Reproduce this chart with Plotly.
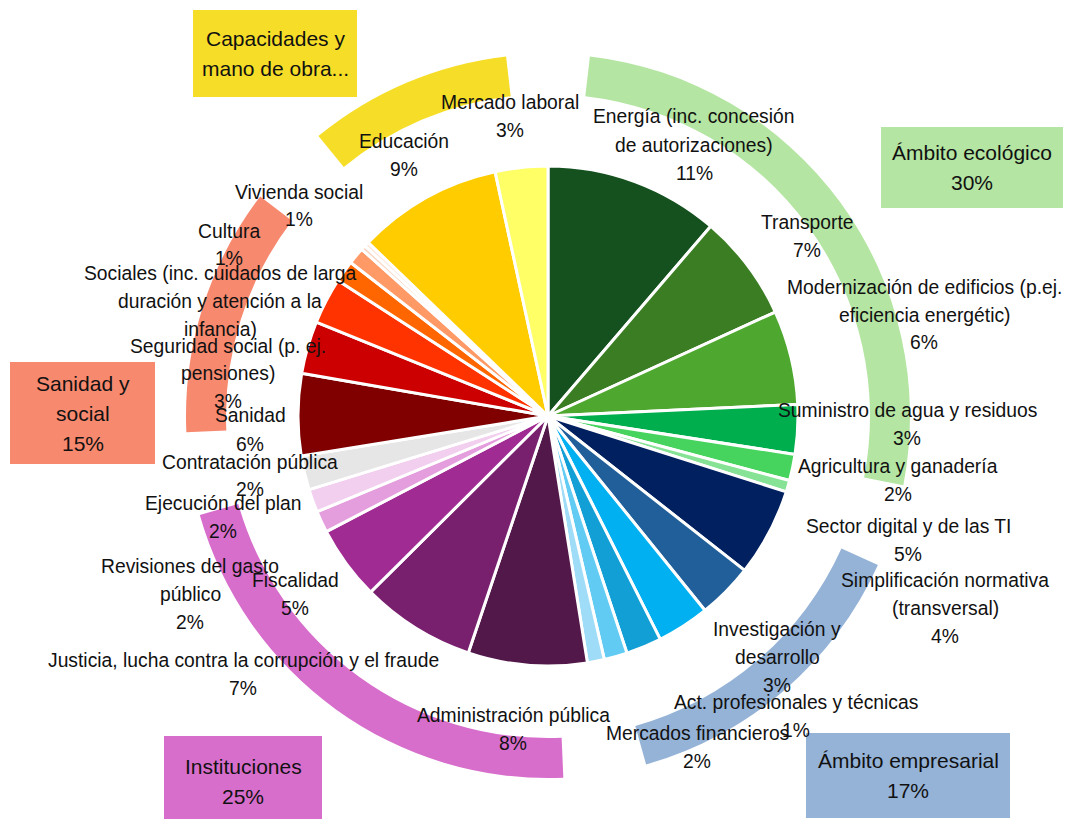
import plotly.graph_objects as go

# page body has an 8px margin, so the figure is drawn 8px in from the corner
PAGE_W, PAGE_H = 1072, 827
OFF = 8
W, H = PAGE_W - 2 * OFF, PAGE_H - 2 * OFF

# ---------------- data ----------------
slice_names = [
    "Energía (inc. concesión\nde autorizaciones)",
    "Transporte",
    "Modernización de edificios (p.ej.\neficiencia energétic)",
    "Suministro de agua y residuos",
    "Agricultura y ganadería",
    "(sin etiqueta, ecológico)",
    "Sector digital y de las TI",
    "Simplificación normativa\n(transversal)",
    "Investigación y\ndesarrollo",
    "Mercados financieros",
    "Act. profesionales y técnicas",
    "(sin etiqueta, empresarial)",
    "Administración pública",
    "Justicia, lucha contra la corrupción y el fraude",
    "Fiscalidad",
    "Revisiones del gasto\npúblico",
    "Ejecución del plan",
    "Contratación pública",
    "Sanidad",
    "Seguridad social (p. ej.\npensiones)",
    "Sociales (inc. cuidados de larga\nduración y atención a la\ninfancia)",
    "Cultura",
    "Vivienda social",
    "(sin etiqueta, social A)",
    "(sin etiqueta, social B)",
    "Educación",
    "Mercado laboral",
]
slice_values = [11.3, 6.9, 6.1, 3.2, 1.7, 0.75,
                5.7, 3.6, 3.4, 2.3, 1.5, 1.1,
                7.7, 7.4, 4.8, 1.4, 1.5, 2.2,
                5.3, 3.4, 3.0, 1.4, 1.1, 0.3, 0.3,
                9.4, 3.4]
slice_pct_text = ["11%", "7%", "6%", "3%", "2%", "",
                  "5%", "4%", "3%", "2%", "1%", "",
                  "8%", "7%", "5%", "2%", "2%", "2%",
                  "6%", "3%", "", "1%", "1%", "", "",
                  "9%", "3%"]
slice_groups = (["Ámbito ecológico"] * 6 + ["Ámbito empresarial"] * 6 +
                ["Instituciones"] * 6 + ["Sanidad y social"] * 7 +
                ["Capacidades y mano de obra"] * 2)
show_label = [True, True, True, True, True, False,
              True, True, True, True, True, False,
              True, True, True, True, True, True,
              True, True, True, True, True, False, False,
              True, True]

group_names = ["Ámbito ecológico", "Ámbito empresarial", "Instituciones",
               "Sanidad y social", "Capacidades y mano de obra"]
group_box_text = ["Ámbito ecológico\n30%", "Ámbito empresarial\n17%",
                  "Instituciones\n25%", "Sanidad y\nsocial\n15%",
                  "Capacidades y\nmano de obra..."]

# ---------------- styles / positions ----------------
slice_colors = ["#15511E", "#3A7D22", "#4EA72E", "#00AE4E", "#47D45E", "#86E396",
                "#002060", "#215F9A", "#00B0F0", "#129FD6", "#61CBF3", "#9EDCF7",
                "#52184A", "#78206E", "#A02B93", "#E49EDD", "#F2CEEF", "#E6E6E6",
                "#800000", "#CC0000", "#FF3300", "#FF6600", "#FF9966", "#FAD3BE", "#FCE8DC",
                "#FFCC00", "#FFFF66"]
group_colors = ["#B4E5A2", "#95B3D7", "#D86ECC", "#F7896F", "#F6DE28"]

# label centres (page pixels) for labelled slices, in slice order
label_xy = [(694, 145), (807, 237), (924, 315), (907, 424), (898, 480), None,
            (908, 540), (945, 608), (777, 657), (697, 747), (796, 716), None,
            (513, 729), (243, 674), (295, 594), (190, 594), (223, 517), (250, 476),
            (250, 430), (228, 374), (220, 301), (229, 245), (299, 206), None, None,
            (404, 155), (510, 116)]
# group boxes (page pixels): x0, y0, x1, y1
group_boxes = [(881, 127, 1063, 208), (806, 733, 1010, 818), (164, 736, 322, 826),
               (10, 362, 155, 464), (193, 10, 357, 97)]

CX, CY, R = 548, 416, 250
RING_OUT, RING_IN = 362, 322
RING_GAP = 3.7  # percent of circle left empty between ring arcs
FONT = "Liberation Sans, Arial, sans-serif"
LABEL_SIZE = 19.3
BOX_SIZE = 21
LINE_H = 28
BOX_LINE_H = 30


def px(x):
    return (x - OFF) / W


def py(y):
    return 1 - (y - OFF) / H


fig = go.Figure()

# outer ring of groups
group_totals = [sum(v for v, g in zip(slice_values, slice_groups) if g == gn) for gn in group_names]
ring_vals, ring_cols, ring_labels = [], [], []
for i, (gn, tot, col) in enumerate(zip(group_names, group_totals, group_colors)):
    ring_vals += [RING_GAP / 2, tot - RING_GAP, RING_GAP / 2]
    ring_cols += ["rgba(0,0,0,0)", col, "rgba(0,0,0,0)"]
    ring_labels += [f"gap{i}a", gn, f"gap{i}b"]

fig.add_trace(go.Pie(
    values=ring_vals, labels=ring_labels, sort=False, direction="clockwise", rotation=0,
    hole=RING_IN / RING_OUT, marker=dict(colors=ring_cols, line=dict(width=0)),
    textinfo="none", hoverinfo="skip", showlegend=False,
    domain=dict(x=[px(CX - RING_OUT), px(CX + RING_OUT)],
                y=[py(CY + RING_OUT), py(CY - RING_OUT)]),
))

# main pie
fig.add_trace(go.Pie(
    values=slice_values, labels=[n.replace("\n", " ") for n in slice_names],
    sort=False, direction="clockwise", rotation=0,
    marker=dict(colors=slice_colors, line=dict(color="white", width=3)),
    textinfo="none", hoverinfo="label+value", showlegend=False,
    domain=dict(x=[px(CX - R), px(CX + R)], y=[py(CY + R), py(CY - R)]),
))

annotations = []
shapes = []

for name, pct, xy, show in zip(slice_names, slice_pct_text, label_xy, show_label):
    if not show or xy is None:
        continue
    lines = name.split("\n") + ([pct] if pct else [])
    n = len(lines)
    for i, ln in enumerate(lines):
        yy = xy[1] + (i - (n - 1) / 2) * LINE_H
        annotations.append(dict(
            x=px(xy[0]), y=py(yy), xref="paper", yref="paper", text=ln, showarrow=False,
            xanchor="center", yanchor="middle",
            font=dict(family=FONT, size=LABEL_SIZE, color="#111111")))

for (x0, y0, x1, y1), col, txt in zip(group_boxes, group_colors, group_box_text):
    shapes.append(dict(type="rect", xref="paper", yref="paper",
                       x0=px(x0), x1=px(x1), y0=py(y1), y1=py(y0),
                       fillcolor=col, line=dict(width=0), layer="below"))
    lines = txt.split("\n")
    n = len(lines)
    cx, cy = (x0 + x1) / 2, (y0 + y1) / 2
    for i, ln in enumerate(lines):
        yy = cy + (i - (n - 1) / 2) * BOX_LINE_H
        annotations.append(dict(
            x=px(cx), y=py(yy), xref="paper", yref="paper", text=ln, showarrow=False,
            xanchor="center", yanchor="middle",
            font=dict(family=FONT, size=BOX_SIZE, color="#111111")))

fig.update_layout(
    width=W, height=H, autosize=False,
    margin=dict(l=0, r=0, t=0, b=0),
    paper_bgcolor="white", plot_bgcolor="white",
    annotations=annotations, shapes=shapes,
    showlegend=False,
)

fig.write_html("out.html")
